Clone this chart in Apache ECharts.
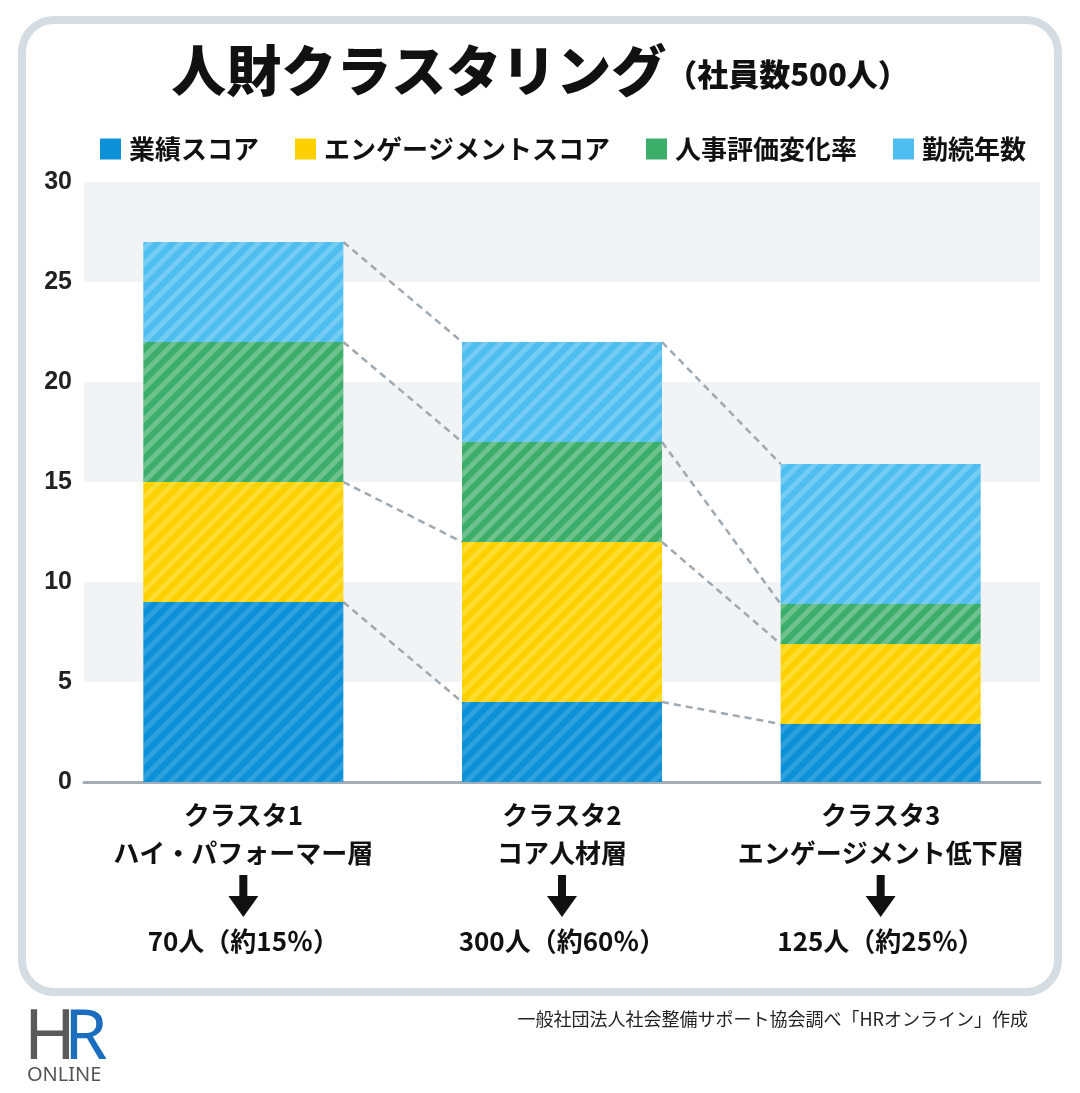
<!DOCTYPE html>
<html>
<head>
<meta charset="utf-8">
<script src="https://cdn.jsdelivr.net/npm/echarts@6/dist/echarts.min.js"></script>
<style>
  html, body { margin: 0; padding: 0; background: #fff; }
  #main { width: 1080px; height: 1093px; }
</style>
</head>
<body>
<div id="main"></div>
<script>
// データ
var categories = ['クラスタ1', 'クラスタ2', 'クラスタ3'];
var segments = ['ハイ・パフォーマー層', 'コア人材層', 'エンゲージメント低下層'];
var headcounts = ['70人（約15％）', '300人（約60％）', '125人（約25％）'];
var seriesNames = ['業績スコア', 'エンゲージメントスコア', '人事評価変化率', '勤続年数'];
var performance = [9, 4, 2.9];
var engagement = [6, 8, 4];
var evaluation = [7, 5, 2];
var tenure = [5, 5, 7];
var yTicks = [0, 5, 10, 15, 20, 25, 30];

var colors = ['#0c90d8', '#fdd000', '#3cae69', '#4dbeef'];
var stripeColors = ['rgba(255,255,255,0.14)', 'rgba(255,240,120,0.4)', 'rgba(255,255,255,0.25)', 'rgba(255,255,255,0.22)'];
var barWidth = 200;

var arrowSvg = 'data:image/svg+xml;utf8,' + encodeURIComponent(
  '<svg xmlns="http://www.w3.org/2000/svg" width="30" height="42" viewBox="0 0 30 42">' +
  '<rect x="11" y="0" width="8" height="24" fill="#111"/>' +
  '<polygon points="0,21 30,21 15,42" fill="#111"/></svg>');

var values = [performance, engagement, evaluation, tenure];

// 積み上げの境界（累積）
var cum = [];
var run = categories.map(function () { return 0; });
values.forEach(function (arr) {
  run = run.map(function (v, i) { return v + arr[i]; });
  cum.push(run.slice());
});
var links = [];
for (var i = 0; i < categories.length - 1; i++) {
  for (var k = 0; k < cum.length; k++) {
    links.push([i, cum[k][i], cum[k][i + 1]]);
  }
}

var barSeries = values.map(function (arr, idx) {
  return {
    name: seriesNames[idx],
    type: 'bar',
    stack: 'total',
    barWidth: barWidth,
    data: arr,
    itemStyle: {
      color: colors[idx],
      decal: {
        symbol: 'rect',
        symbolSize: 1,
        color: stripeColors[idx],
        dashArrayX: [1, 0],
        dashArrayY: [5, 6],
        rotation: -Math.PI / 4
      }
    },
    emphasis: { disabled: true },
    z: 2
  };
});

var chart = echarts.init(document.getElementById('main'));
chart.setOption({
  animation: false,
  backgroundColor: '#fff',
  title: {
    text: '{a|人財クラスタリング}{b|（社員数500人）}',
    left: 'center',
    top: 38,
    textStyle: {
      rich: {
        a: { fontSize: 55, fontWeight: 900, color: '#111', fontFamily: 'Noto Sans CJK JP' },
        b: { fontSize: 31, fontWeight: 900, color: '#111', fontFamily: 'Noto Sans CJK JP', padding: [8, 0, 0, 0] }
      }
    }
  },
  legend: {
    data: seriesNames,
    top: 131,
    left: 95,
    icon: 'rect',
    itemWidth: 21,
    itemHeight: 21,
    itemGap: 36,
    selectedMode: false,
    itemStyle: { decal: 'none' },
    textStyle: { fontSize: 26, fontWeight: 'bold', color: '#111', fontFamily: 'Noto Sans CJK JP', padding: [0, 0, 0, 3] }
  },
  grid: { left: 84, right: 40, top: 182, bottom: 311 },
  xAxis: {
    type: 'category',
    data: categories,
    axisLine: { lineStyle: { color: '#a2adb6', width: 3 } },
    axisTick: { show: false },
    axisLabel: {
      margin: 14,
      interval: 0,
      formatter: function (v, i) {
        return '{t|' + v + '}\n{t|' + segments[i] + '}\n{arrow|}\n{n|' + headcounts[i] + '}';
      },
      rich: {
        t: { fontSize: 26, fontWeight: 'bold', color: '#111', lineHeight: 38, fontFamily: 'Noto Sans CJK JP' },
        arrow: { width: 30, height: 42, lineHeight: 48, backgroundColor: { image: arrowSvg } },
        n: { fontSize: 26, fontWeight: 'bold', color: '#111', lineHeight: 42, fontFamily: 'Noto Sans CJK JP' }
      }
    }
  },
  yAxis: {
    type: 'value',
    min: yTicks[0],
    max: yTicks[yTicks.length - 1],
    interval: 5,
    axisLine: { show: false },
    axisTick: { show: false },
    splitLine: { show: false },
    splitArea: { show: true, areaStyle: { color: ['#ffffff', '#f2f3f5'] } },
    axisLabel: { fontSize: 25, fontWeight: 'bold', color: '#222', margin: 12, fontFamily: 'Liberation Sans' }
  },
  graphic: [
    {
      type: 'rect',
      shape: { x: 22, y: 20, width: 1036, height: 972, r: 32 },
      style: { fill: 'none', stroke: '#d5dde2', lineWidth: 8 },
      z: 0
    },
    {
      type: 'text',
      right: 52,
      top: 1010,
      style: { text: '一般社団法人社会整備サポート協会調べ「HRオンライン」作成', fontSize: 18, fill: '#222', fontFamily: 'Noto Sans CJK JP' }
    },
    {
      type: 'text',
      left: 24,
      top: 1004,
      style: { text: 'H', fontSize: 70, fill: '#5a5a5a', fontFamily: 'Noto Sans', fontWeight: 400 }
    },
    {
      type: 'text',
      left: 64,
      top: 1004,
      style: { text: 'R', fontSize: 70, fill: '#1b6ebd', fontFamily: 'Noto Sans', fontWeight: 400 }
    },
    {
      type: 'text',
      left: 27,
      top: 1065,
      style: { text: 'ONLINE', fontSize: 20, fill: '#555', fontFamily: 'Noto Sans' }
    }
  ],
  series: barSeries.concat([{
    type: 'custom',
    name: 'links',
    data: links,
    encode: { x: 0, y: 1 },
    z: 1,
    silent: true,
    renderItem: function (params, api) {
      var a = api.coord([api.value(0), api.value(1)]);
      var b = api.coord([api.value(0) + 1, api.value(2)]);
      return {
        type: 'line',
        shape: { x1: a[0] + barWidth / 2, y1: a[1], x2: b[0] - barWidth / 2, y2: b[1] },
        style: { stroke: '#9ea9b2', lineWidth: 2.5, lineDash: [7, 5] }
      };
    }
  }])
});
</script>
</body>
</html>
